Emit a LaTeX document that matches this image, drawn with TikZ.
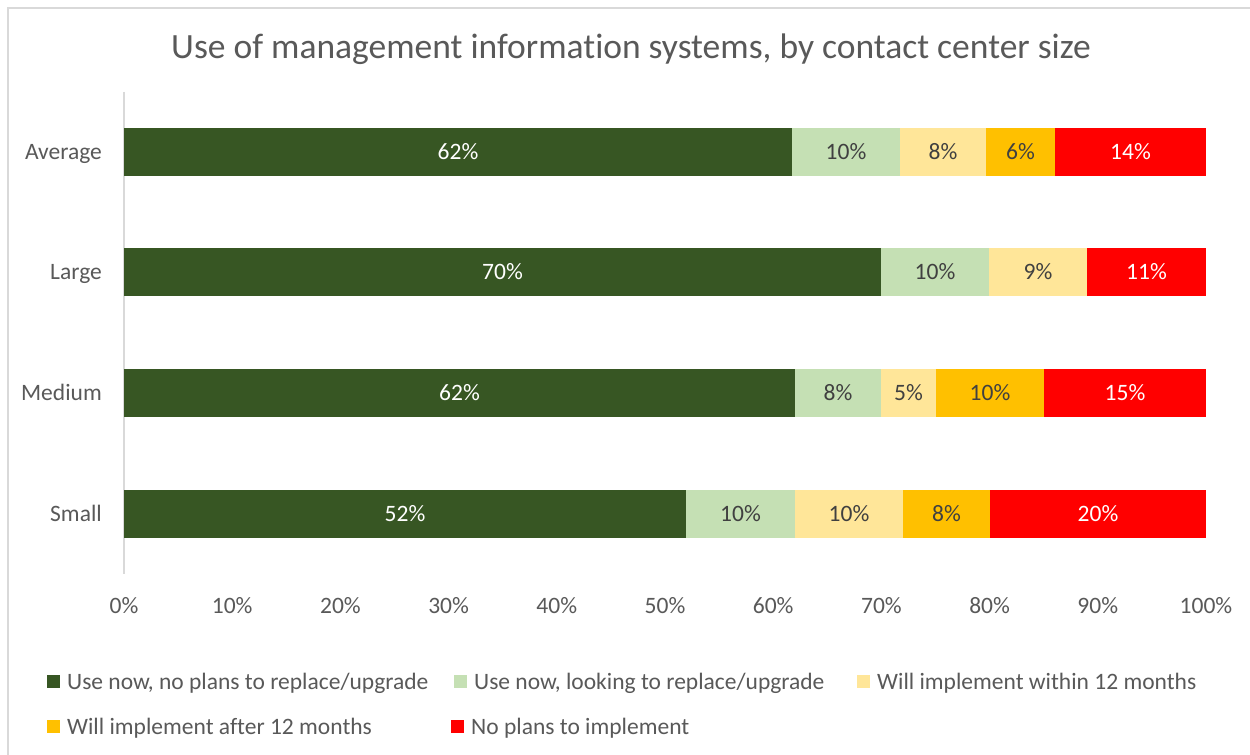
\documentclass[tikz,border=0pt]{standalone}
\usepackage{fontspec}
\setmainfont{Carlito}[Ligatures=NoCommon]
\definecolor{cdark}{HTML}{375623}
\definecolor{clight}{HTML}{C5E0B4}
\definecolor{cyel}{HTML}{FFE699}
\definecolor{corange}{HTML}{FFC000}
\definecolor{cred}{HTML}{FF0000}
\definecolor{txtgray}{HTML}{595959}
\definecolor{bartxt}{HTML}{404040}
\definecolor{linegray}{HTML}{D9D9D9}
\newcommand\lblfont{\fontsize{23.5bp}{28bp}\selectfont}
\newcommand\titlefont{\fontsize{35.5bp}{42bp}\selectfont}
% segment: name, x0, x1, ycenter, fill, text colour, label
\newcommand\seg[7]{%
  \fill[#5] (#2,#4-24) rectangle (#3,#4+24);
  \node[seglabel, text=#6] (#1) at ({(#2+#3)/2},#4+7.5) {#7};}
\tikzset{
  seglabel/.style={font=\lblfont, inner sep=0pt, anchor=base},
  catlabel/.style={font=\lblfont, text=txtgray, anchor=base east, inner sep=0pt},
  ticklabel/.style={font=\lblfont, text=txtgray, inner sep=0pt, anchor=base},
  legsq/.style={minimum size=13bp, inner sep=0pt, draw=none},
  legtext/.style={font=\lblfont, text=txtgray, anchor=base west, inner sep=0pt},
}
\begin{document}
\begin{tikzpicture}[x=1bp,y=-1bp]
\useasboundingbox (0,0) rectangle (1250,755);
\fill[white] (0,0) rectangle (1250,755);
\draw[linegray, line width=2bp] (8,755) -- (8,8) -- (1250,8);
\node[font=\titlefont, text=txtgray, inner sep=0pt, anchor=base] (title) at (631,58.5) {Use of management information systems, by contact center size};
% axis
\coordinate (axtop) at (124,92);
\coordinate (axbot) at (124,574);
\draw[linegray, line width=1.5bp] (axtop) -- (axbot);
% Average
\seg{a1}{124}{792}{152}{cdark}{white}{62\%}
\seg{a2}{792}{900}{152}{clight}{bartxt}{10\%}
\seg{a3}{900}{986}{152}{cyel}{bartxt}{8\%}
\seg{a4}{986}{1055}{152}{corange}{bartxt}{6\%}
\seg{a5}{1055}{1206}{152}{cred}{white}{14\%}
% Large
\seg{l1}{124}{881}{272}{cdark}{white}{70\%}
\seg{l2}{881}{989}{272}{clight}{bartxt}{10\%}
\seg{l3}{989}{1087}{272}{cyel}{bartxt}{9\%}
\seg{l5}{1087}{1206}{272}{cred}{white}{11\%}
% Medium
\seg{m1}{124}{795}{393}{cdark}{white}{62\%}
\seg{m2}{795}{881}{393}{clight}{bartxt}{8\%}
\seg{m3}{881}{936}{393}{cyel}{bartxt}{5\%}
\seg{m4}{936}{1044}{393}{corange}{bartxt}{10\%}
\seg{m5}{1044}{1206}{393}{cred}{white}{15\%}
% Small
\seg{s1}{124}{686}{514}{cdark}{white}{52\%}
\seg{s2}{686}{795}{514}{clight}{bartxt}{10\%}
\seg{s3}{795}{903}{514}{cyel}{bartxt}{10\%}
\seg{s4}{903}{990}{514}{corange}{bartxt}{8\%}
\seg{s5}{990}{1206}{514}{cred}{white}{20\%}
% categories
\node[catlabel] (cavg) at (102,159.5) {Average};
\node[catlabel] (clarge) at (102,279.5) {Large};
\node[catlabel] (cmed) at (102,400.5) {Medium};
\node[catlabel] (csmall) at (102,521.5) {Small};
% ticks
\foreach \i in {0,...,10} {
  \pgfmathsetmacro\xx{124+108.2*\i}
  \pgfmathtruncatemacro\pp{10*\i}
  \node[ticklabel] (t\i) at (\xx,613.5) {\pp\%};
}
% legend
\node[legsq, fill=cdark] (k1) at (53.5,681.5) {};
\node[legtext] (k1t) at (67,689) {Use now, no plans to replace/upgrade};
\node[legsq, fill=clight] (k2) at (460.5,681.5) {};
\node[legtext] (k2t) at (474,689) {Use now, looking to replace/upgrade};
\node[legsq, fill=cyel] (k3) at (863.5,681.5) {};
\node[legtext] (k3t) at (877,689) {Will implement within 12 months};
\node[legsq, fill=corange] (k4) at (53.5,726.5) {};
\node[legtext] (k4t) at (67,734) {Will implement after 12 months};
\node[legsq, fill=cred] (k5) at (457.5,726.5) {};
\node[legtext] (k5t) at (471,734) {No plans to implement};
\end{tikzpicture}
\end{document}
